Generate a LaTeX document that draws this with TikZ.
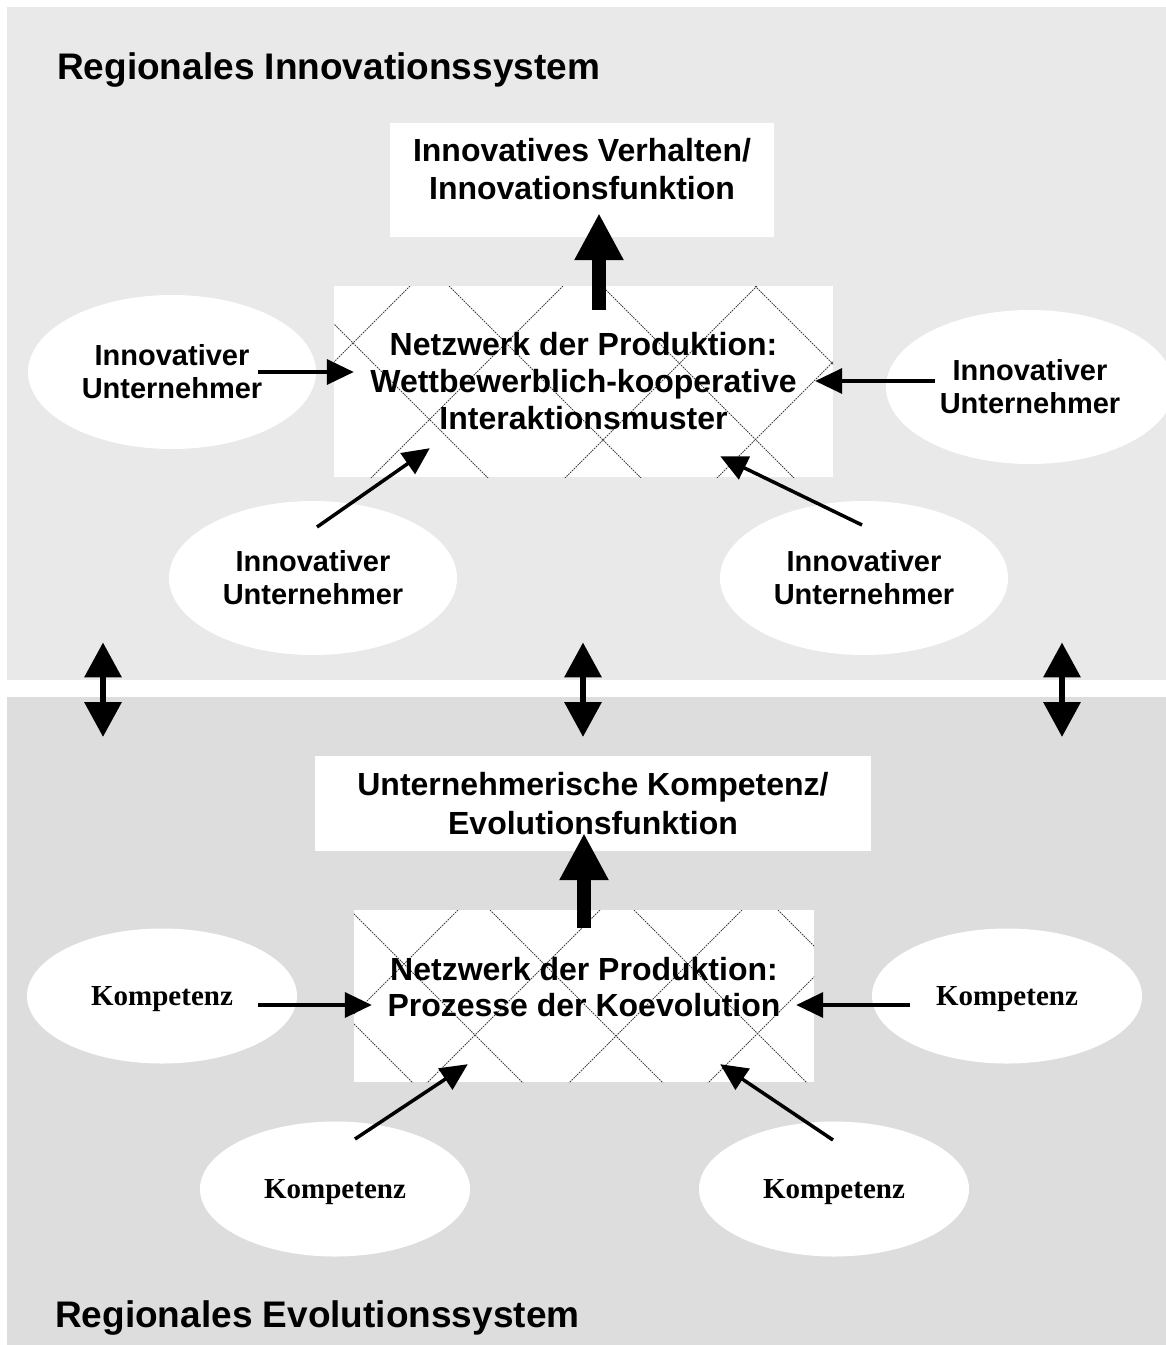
\documentclass[tikz,border=0pt]{standalone}
\usepackage{fontspec}
\setmainfont{Liberation Sans}
\newfontfamily\serifbold{Liberation Serif}
\usetikzlibrary{arrows.meta,calc,shapes.geometric}

\definecolor{innogray}{HTML}{E9E9E9}
\definecolor{evogray}{HTML}{DDDDDD}

\begin{document}
\begin{tikzpicture}[x=1pt,y=-1pt,
  panel/.style={rectangle, inner sep=0pt, draw=none, anchor=north west},
  title/.style={anchor=base west, inner sep=0pt, font=\fontsize{37}{44}\selectfont\bfseries},
  whitebox/.style={rectangle, fill=white, inner sep=0pt},
  boxtext/.style={inner sep=0pt, align=center, font=\fontsize{32}{38}\selectfont\bfseries},
  actor/.style={ellipse, fill=white, inner sep=0pt, minimum width=288, minimum height=154,
    align=center, font=\fontsize{29}{33}\selectfont\bfseries},
  comp/.style={ellipse, fill=white, inner sep=0pt, minimum width=270, minimum height=135,
    text depth=0pt, font=\serifbold\fontsize{29}{33}\selectfont\bfseries},
  hatchline/.style={line width=0.8pt, black!75, dash pattern=on 1.6pt off 1pt},
  % crosshatch: top-edge offsets of the "\" lines and of the "/" lines
  hatch/.style 2 args={path picture={
    \foreach \a in {#1}
      \draw[hatchline] ($(path picture bounding box.north west)+(\a,0)$) -- ++(400,400);
    \foreach \b in {#2}
      \draw[hatchline] ($(path picture bounding box.north west)+(\b,0)$) -- ++(-400,400);
    }},
  feed/.style={line width=3.5pt, -{Triangle[length=27pt,width=25pt]}},
  rise/.style={line width=14pt, -{Triangle[length=47pt,width=46pt]}},
  link/.style={line width=6.5pt, {Triangle[length=35pt,width=36pt]}-{Triangle[length=35pt,width=36pt]}},
]
\fill[white] (0,0) rectangle (1166,1345);
\useasboundingbox (0,0) rectangle (1166,1345);

% the two system panels
\node[panel, fill=innogray, minimum width=1159, minimum height=673] (inno) at (7,7) {};
\node[panel, fill=evogray, minimum width=1159, minimum height=648] (evo) at (7,697) {};

\node[title] (titleI) at (57,79) {Regionales Innovationssystem};
\node[title] (titleE) at (55,1327) {Regionales Evolutionssystem};

% innovation system
\node[whitebox, minimum width=384, minimum height=114,
  label={[boxtext, yshift=11pt]center:Innovatives Verhalten/\\Innovationsfunktion}] (funcI) at (582,180) {};
\node[whitebox, minimum width=499, minimum height=191,
  hatch={-38,115,268,421}{76,229,423,575},
  boxtext, font=\fontsize{32}{37}\selectfont\bfseries] (netI) at (583.5,381.5)
  {Netzwerk der Produktion:\\Wettbewerblich-kooperative\\Interaktionsmuster};

\node[actor] (uTL) at (172,372) {Innovativer\\Unternehmer};
\node[actor] (uTR) at (1030,387) {Innovativer\\Unternehmer};
\node[actor] (uBL) at (313,578) {Innovativer\\Unternehmer};
\node[actor] (uBR) at (864,578) {Innovativer\\Unternehmer};

% evolution system
\node[whitebox, minimum width=556, minimum height=95, boxtext,
  font=\fontsize{32}{39}\selectfont\bfseries] (funcE) at (593,803.5)
  {Unternehmerische Kompetenz/\\Evolutionsfunktion};
\node[whitebox, minimum width=460, minimum height=172,
  hatch={-114,-4,136,280,424}{104,246,388,527},
  label={[boxtext, yshift=9pt, font=\fontsize{32}{36}\selectfont\bfseries]center:Netzwerk der Produktion:\\Prozesse der Koevolution}] (netE) at (584,996) {};

\node[comp] (kL) at (162,996) {Kompetenz};
\node[comp] (kR) at (1007,996) {Kompetenz};
\node[comp] (kBL) at (335,1189) {Kompetenz};
\node[comp] (kBR) at (834,1189) {Kompetenz};

% connectors, innovation system
\draw[rise] ($(netI.north)+(15.5,24)$) -- ($(funcI.south)+(17,-24)$);
\draw[feed] ($(uTL.center)+(86,0)$) -- ($(netI.west)+(20,-9.5)$);
\draw[feed] ($(uTR.center)+(-95,-6)$) -- ($(netI.east)+(-18,-0.5)$);
\draw[feed] ($(uBL.center)+(4,-51)$) -- ($(netI.south west)+(96,-29)$);
\draw[feed] ($(uBR.center)+(-2,-53)$) -- ($(netI.south east)+(-113,-21)$);

% connectors, evolution system
\draw[rise] ($(netE.north)+(0,18)$) -- ($(funcE.south)+(-9,-18)$);
\draw[feed] ($(kL.center)+(96,9)$) -- ($(netE.west)+(18,9)$);
\draw[feed] ($(kR.center)+(-97,9)$) -- ($(netE.east)+(-18,9)$);
\draw[feed] ($(kBL.center)+(20,-50)$) -- ($(netE.south west)+(114,-18)$);
\draw[feed] ($(kBR.center)+(-1,-49)$) -- ($(netE.south east)+(-94,-18)$);

% links between the two systems
\draw[link] ($(inno.south west)+(96,-38)$) -- ($(evo.north west)+(96,40)$);
\draw[link] ($(inno.south west)+(576,-38)$) -- ($(evo.north west)+(576,40)$);
\draw[link] ($(inno.south west)+(1055,-38)$) -- ($(evo.north west)+(1055,40)$);
\end{tikzpicture}
\end{document}
